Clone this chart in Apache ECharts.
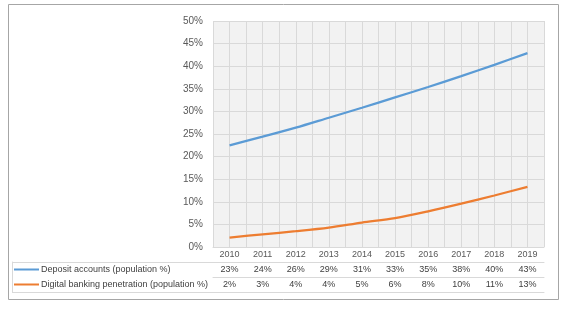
<!DOCTYPE html>
<html>
<head>
<meta charset="utf-8">
<script src="https://cdn.jsdelivr.net/npm/echarts@6/dist/echarts.min.js"></script>
<style>
  html, body { margin: 0; padding: 0; background: #fff; }
  #chart { width: 567px; height: 309px; }
</style>
</head>
<body>
<div id="chart"></div>
<script>
// years along the x axis
const years = ["2010", "2011", "2012", "2013", "2014", "2015", "2016", "2017", "2018", "2019"];
// line values (population %)
const depositValues = [22.5, 24.4, 26.4, 28.6, 30.8, 33.1, 35.4, 37.8, 40.3, 42.9];
const digitalValues = [2.1, 2.8, 3.5, 4.3, 5.4, 6.4, 7.9, 9.6, 11.4, 13.3];
// data table row labels, as printed
const depositLabels = ["23%", "24%", "26%", "29%", "31%", "33%", "35%", "38%", "40%", "43%"];
const digitalLabels = ["2%", "3%", "4%", "4%", "5%", "6%", "8%", "10%", "11%", "13%"];
const seriesNames = ["Deposit accounts (population %)", "Digital banking penetration (population %)"];

const font = "'Liberation Sans', Arial, sans-serif";
const gridColor = "#d9d9d9";
const textColor = "#595959";
const rowH = 15;

const chart = echarts.init(document.getElementById("chart"));

/** one row of the data table, drawn as a category axis under the plot */
function tableRow(labels, offset, color) {
  return {
    type: "category",
    gridIndex: 0,
    position: "bottom",
    offset: offset,
    data: labels,
    axisLine: { lineStyle: { color: gridColor } },
    axisTick: { length: rowH, lineStyle: { color: gridColor } },
    axisLabel: {
      margin: 3,
      fontFamily: font,
      fontSize: 9,
      color: color,
      interval: 0
    },
    splitLine: { show: false }
  };
}

chart.setOption({
  animation: false,
  backgroundColor: "#fff",
  graphic: [
    {
      type: "rect",
      shape: { x: 8.5, y: 4.5, width: 550, height: 295 },
      style: { fill: "none", stroke: "#a6a6a6", lineWidth: 1 }
    }
  ],
  legend: {
    orient: "vertical",
    left: 14,
    top: 262,
    icon: "rect",
    itemWidth: 25,
    itemHeight: 2,
    itemGap: 0,
    padding: 0,
    textStyle: {
      fontFamily: font,
      fontSize: 9,
      color: "#404040",
      lineHeight: rowH,
      padding: [0, 0, 0, -3]
    },
    data: seriesNames
  },
  grid: [
    { left: 213, right: 23, top: 21, bottom: 62, show: true, backgroundColor: "#f2f2f2", borderWidth: 0 },
    { left: 12, width: 201, top: 262, height: 30, show: false }
  ],
  xAxis: [
    tableRow(years, 0, textColor),
    tableRow(depositLabels, rowH, "#404040"),
    tableRow(digitalLabels, rowH * 2, "#404040"),
    {
      type: "category",
      gridIndex: 0,
      position: "bottom",
      offset: rowH * 3,
      data: years,
      axisLine: { lineStyle: { color: gridColor } },
      axisTick: { show: false },
      axisLabel: { show: false }
    },
    {
      // half-category vertical gridlines
      type: "value",
      gridIndex: 0,
      position: "top",
      min: 0,
      max: 20,
      interval: 1,
      axisLine: { show: false },
      axisTick: { show: false },
      axisLabel: { show: false },
      splitLine: { lineStyle: { color: gridColor } }
    },
    { type: "value", gridIndex: 1, show: false }
  ],
  yAxis: [
    {
      type: "value",
      gridIndex: 0,
      min: 0,
      max: 50,
      interval: 5,
      axisLine: { show: false },
      axisTick: { show: false },
      axisLabel: {
        formatter: "{value}%",
        margin: 10,
        fontFamily: font,
        fontSize: 10,
        color: textColor
      },
      splitLine: { lineStyle: { color: gridColor } }
    },
    {
      type: "category",
      gridIndex: 1,
      data: ["", ""],
      axisLine: { show: true, lineStyle: { color: gridColor } },
      axisTick: { show: false },
      axisLabel: { show: false },
      splitLine: { show: true, lineStyle: { color: gridColor } }
    }
  ],
  series: [
    {
      name: seriesNames[0],
      type: "line",
      xAxisIndex: 0,
      yAxisIndex: 0,
      data: depositValues,
      smooth: 0.3,
      symbol: "none",
      color: "#5b9bd5",
      lineStyle: { width: 2.25 }
    },
    {
      name: seriesNames[1],
      type: "line",
      xAxisIndex: 0,
      yAxisIndex: 0,
      data: digitalValues,
      smooth: 0.3,
      symbol: "none",
      color: "#ed7d31",
      lineStyle: { width: 2.25 }
    }
  ]
});
</script>
</body>
</html>
